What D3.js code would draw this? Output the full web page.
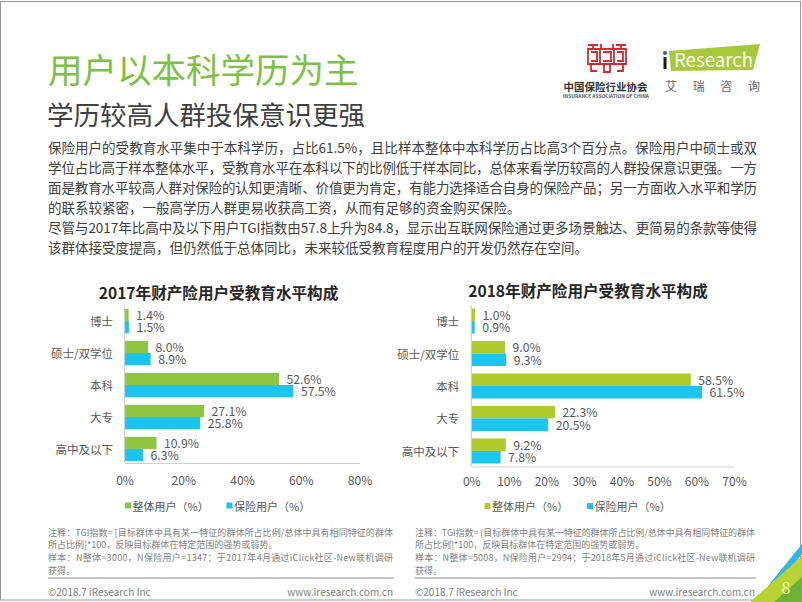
<!DOCTYPE html>
<html><head><meta charset="utf-8">
<script src="https://cdn.jsdelivr.net/npm/d3@7"></script>
<style>
html,body{margin:0;padding:0;background:#fff;}
svg{display:block;}
text{font-family:"Noto Sans CJK SC","Noto Sans",sans-serif;}
</style></head><body>
<svg id="c" width="802" height="602"></svg>
<script>
// ---------- data ----------
const categories = ["博士", "硕士/双学位", "本科", "大专", "高中及以下"];
const overall2017 = [1.4, 8.0, 52.6, 27.1, 10.9];
const insured2017 = [1.5, 8.9, 57.5, 25.8, 6.3];
const overall2018 = [1.0, 9.0, 58.5, 22.3, 9.2];
const insured2018 = [0.9, 9.3, 61.5, 20.5, 7.8];
const ticks2017 = [0, 20, 40, 60, 80];
const ticks2018 = [0, 10, 20, 30, 40, 50, 60, 70];
const seriesNames = ["整体用户（%）", "保险用户（%）"];
const chartTitles = ["2017年财产险用户受教育水平构成", "2018年财产险用户受教育水平构成"];
const pageTitle = "用户以本科学历为主";
const pageSubtitle = "学历较高人群投保意识更强";
const bodyLines = [
  "保险用户的受教育水平集中于本科学历，占比61.5%，且比样本整体中本科学历占比高3个百分点。保险用户中硕士或双",
  "学位占比高于样本整体水平，受教育水平在本科以下的比例低于样本同比，总体来看学历较高的人群投保意识更强。一方",
  "面是教育水平较高人群对保险的认知更清晰、价值更为肯定，有能力选择适合自身的保险产品；另一方面收入水平和学历",
  "的联系较紧密，一般高学历人群更易收获高工资，从而有足够的资金购买保险。",
  "尽管与2017年比高中及以下用户TGI指数由57.8上升为84.8，显示出互联网保险通过更多场景触达、更简易的条款等使得",
  "该群体接受度提高，但仍然低于总体同比，未来较低受教育程度用户的开发仍然存在空间。"
];
const bodyJustified = [true, true, true, false, true, false];
const notes2017 = [
  "注释：TGI指数= [目标群体中具有某一特征的群体所占比例/总体中具有相同特征的群体",
  "所占比例]*100，反映目标群体在特定范围的强势或弱势。",
  "样本：N整体=3000，N保险用户=1347；于2017年4月通过iClick社区-New联机调研",
  "获得。"
];
const notes2018 = [
  "注释：TGI指数= [目标群体中具有某一特征的群体所占比例/总体中具有相同特征的群体",
  "所占比例]*100，反映目标群体在特定范围的强势或弱势。",
  "样本：N整体=5008，N保险用户=2994；于2018年5月通过iClick社区-New联机调研",
  "获得。"
];
const notesJustified = [true, false, true, false];

// ---------- drawing ----------
const svg = d3.select("#c");
const BLUE = "#1cc4f0";
const GREY = "#595959";

// page border
svg.append("rect").attr("x", 0.5).attr("y", 1.5).attr("width", 800).attr("height", 598.5)
  .attr("fill", "none").attr("stroke", "#9a9a9a").attr("stroke-width", 1);

// titles
svg.append("text").attr("x", 48).attr("y", 68).attr("dominant-baseline", "central")
  .attr("font-size", 34.5).attr("fill", "#7cc142").text(pageTitle);
svg.append("text").attr("x", 47).attr("y", 113.5).attr("dominant-baseline", "central")
  .attr("font-size", 26.5).attr("fill", "#404040").text(pageSubtitle);

// body text
svg.append("g").selectAll("text").data(bodyLines).enter().append("text")
  .attr("x", 48).attr("y", (d, i) => 147 + i * 20).attr("dominant-baseline", "central")
  .attr("font-size", 13.5).attr("fill", "#404040")
  .each(function (d, i) {
    if (bodyJustified[i]) d3.select(this).attr("textLength", 709).attr("lengthAdjust", "spacing");
  })
  .text(d => d);

// logos (decorative)
const logo = svg.append("g");
const red = "#d7282f";
logo.append("path").attr("fill", "none").attr("stroke", red).attr("stroke-width", 1.8)
  .attr("d", "M588,45H598 M616,45H626 M593,45V49 M621,45V49 M601,44V49H613V44 " +
    "M588,49H626V64H588Z M600,49V64 M614,49V64 M591,52H597V61H591 M617,52H623V61H617 M603,52H611V61H603 " +
    "M591,64V71H597 M623,64V71H617 M604,64V72H610V64");
logo.append("text").attr("x", 605.5).attr("y", 86).attr("text-anchor", "middle").attr("dominant-baseline", "central")
  .attr("font-size", 10.5).attr("font-weight", "bold").attr("fill", "#333").text("中国保险行业协会");
logo.append("text").attr("x", 563).attr("y", 96).attr("dominant-baseline", "central")
  .attr("font-size", 4.6).attr("font-weight", "bold").attr("fill", "#555")
  .attr("textLength", 86).attr("lengthAdjust", "spacingAndGlyphs").text("INSURANCE ASSOCIATION OF CHINA");
logo.append("path").attr("fill", "#a8c93a").attr("d", "M669,51L760,44L753,70L671,71Z");
logo.append("rect").attr("x", 663.5).attr("y", 57).attr("width", 3).attr("height", 12).attr("fill", "#1a1a1a");
logo.append("circle").attr("cx", 665).attr("cy", 53).attr("r", 2).attr("fill", "#1f5fbf");
logo.append("text").attr("x", 674).attr("y", 67).attr("font-family", "'Open Sans',sans-serif")
  .attr("font-size", 19).attr("fill", "#fff").attr("textLength", 79).attr("lengthAdjust", "spacingAndGlyphs").text("Research");
logo.append("text").attr("x", 665).attr("y", 85).attr("dominant-baseline", "central")
  .attr("font-size", 12).attr("fill", "#666").attr("textLength", 95).attr("lengthAdjust", "spacing").text("艾瑞咨询");

// charts
function drawChart(cfg) {
  const g = svg.append("g");
  const x = d3.scaleLinear().domain([0, cfg.max]).range([cfg.x0, cfg.x1]);
  const y = d3.scaleBand().domain(categories).range([cfg.y0, cfg.y1])
    .paddingInner(cfg.pi).paddingOuter(cfg.po);
  const sub = d3.scaleBand().domain([0, 1]).range([0, y.bandwidth()]);
  const series = [cfg.a, cfg.b];
  const colors = [cfg.green, BLUE];

  g.append("text").attr("x", cfg.tx).attr("y", cfg.ty).attr("text-anchor", "middle")
    .attr("dominant-baseline", "central").attr("font-size", 15.6).attr("font-weight", "bold")
    .attr("fill", "#262626").text(cfg.title);

  series.forEach((vals, si) => {
    g.append("g").selectAll("rect").data(vals).enter().append("rect")
      .attr("x", x(0))
      .attr("y", (d, i) => y(categories[i]) + sub(si))
      .attr("width", d => x(d) - x(0))
      .attr("height", sub.bandwidth())
      .attr("fill", colors[si]);
    g.append("g").selectAll("text").data(vals).enter().append("text")
      .attr("x", d => x(d) + 7.5)
      .attr("y", (d, i) => y(categories[i]) + sub(si) + sub.bandwidth() / 2)
      .attr("dominant-baseline", "central")
      .attr("font-size", 12.2).attr("fill", GREY)
      .text(d => d.toFixed(1) + "%");
  });

  const xa = g.append("g").attr("transform", `translate(0,${cfg.axisY})`)
    .call(d3.axisBottom(x).tickValues(cfg.ticks).tickFormat(d => d + "%").tickSize(0).tickSizeOuter(0));
  xa.select(".domain").attr("stroke", "#d0d0d0").attr("stroke-width", 1.2);
  xa.selectAll(".tick text").attr("dy", null).attr("y", cfg.tickDy).attr("dominant-baseline", "central")
    .attr("font-size", 12).attr("fill", GREY).attr("font-family", "'Noto Sans CJK SC',sans-serif");

  const ya = g.append("g").attr("transform", `translate(${cfg.x0},0)`)
    .call(d3.axisLeft(y).tickSize(0).tickSizeOuter(0).tickPadding(cfg.catPad));
  ya.select(".domain").attr("d", `M0,${cfg.vTop}V${cfg.axisY}`).attr("stroke", "#d0d0d0").attr("stroke-width", 1.2);
  ya.selectAll(".tick text").attr("dy", null).attr("dominant-baseline", "central")
    .attr("font-size", 11.5).attr("fill", GREY).attr("font-family", "'Noto Sans CJK SC',sans-serif");

  seriesNames.forEach((name, si) => {
    g.append("rect").attr("x", cfg.legX[si]).attr("y", cfg.legY - 3).attr("width", 6).attr("height", 6)
      .attr("fill", colors[si]);
    g.append("text").attr("x", cfg.legX[si] + 7.5).attr("y", cfg.legY).attr("dominant-baseline", "central")
      .attr("font-size", 11).attr("fill", GREY).text(name);
  });
}

drawChart({
  title: chartTitles[0], tx: 218.5, ty: 291.5,
  a: overall2017, b: insured2017, max: 80, ticks: ticks2017,
  x0: 124.5, x1: 359.5, y0: 307, y1: 463, pi: 0.24, po: 0.06,
  axisY: 463, vTop: 305, tickDy: 16.5, catPad: 11.5,
  green: "#8fc63f", legX: [125, 226.5], legY: 505.5
});
drawChart({
  title: chartTitles[1], tx: 588, ty: 290,
  a: overall2018, b: insured2018, max: 70, ticks: ticks2018,
  x0: 471.3, x1: 734, y0: 305, y1: 467, pi: 0.23, po: 0.11,
  axisY: 466.5, vTop: 305, tickDy: 14, catPad: 12,
  green: "#afcb2b", legX: [484.5, 587], legY: 506
});

// footnotes
function drawNotes(lines, x0, w) {
  svg.append("g").selectAll("text").data(lines).enter().append("text")
    .attr("x", x0).attr("y", (d, i) => 532 + i * 12.8).attr("dominant-baseline", "central")
    .attr("font-size", 9).attr("fill", "#7f7f7f")
    .each(function (d, i) {
      if (notesJustified[i]) d3.select(this).attr("textLength", w).attr("lengthAdjust", "spacing");
    })
    .text(d => d);
  svg.append("line").attr("x1", x0).attr("x2", x0 + w + 1).attr("y1", 578).attr("y2", 578)
    .attr("stroke", "#8c8c8c").attr("stroke-width", 1);
  svg.append("text").attr("x", x0).attr("y", 591).attr("dominant-baseline", "central")
    .attr("font-size", 10).attr("fill", "#7f7f7f").text("©2018.7 iResearch Inc");
  svg.append("text").attr("x", x0 + w).attr("y", 591).attr("text-anchor", "end").attr("dominant-baseline", "central")
    .attr("font-size", 10).attr("fill", "#7f7f7f").text("www.iresearch.com.cn");
}
drawNotes(notes2017, 48, 345);
drawNotes(notes2018, 415, 340);

// corner decoration
svg.append("path").attr("fill", "#2fb5e8").attr("d", "M768,586L802,544L802,554L774,590Z");
svg.append("path").attr("fill", "#b9d432").attr("d", "M750,602L802,556L802,602Z");
svg.append("path").attr("fill", "#6fb23a").attr("d", "M774,602L802,577L802,602Z");
svg.append("text").attr("x", 786).attr("y", 587).attr("text-anchor", "middle").attr("dominant-baseline", "central")
  .attr("font-size", 16).attr("fill", "#eef7a0").text("8");
</script>
</body></html>
